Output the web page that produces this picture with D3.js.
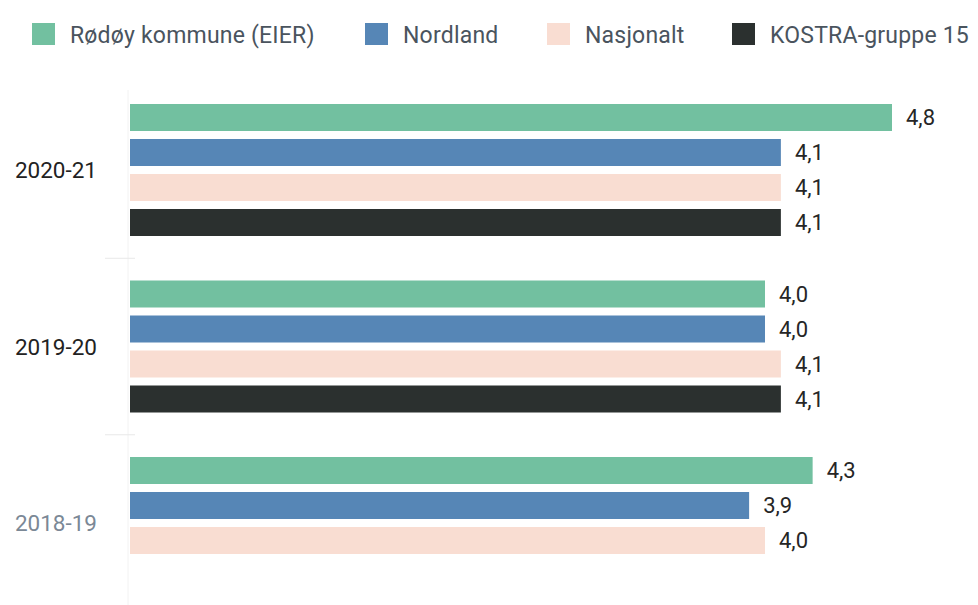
<!DOCTYPE html>
<html>
<head>
<meta charset="utf-8">
<script src="https://cdn.jsdelivr.net/npm/d3@7.9.0/dist/d3.min.js"></script>
<style>
  body { margin: 0; background: #fff; }
  svg { display: block; font-family: Roboto, "Noto Sans", sans-serif; }
</style>
</head>
<body>
<svg id="chart" width="978" height="605"></svg>
<script>
// data
const periods = ['2020-21', '2019-20', '2018-19'];
const series = ['Rødøy kommune (EIER)', 'Nordland', 'Nasjonalt', 'KOSTRA-gruppe 15'];
const rodoy = [4.8, 4.0, 4.3];
const nordland = [4.1, 4.0, 3.9];
const nasjonalt = [4.1, 4.1, 4.0];
const kostra = [4.1, 4.1, null];

const colors = ['#72c0a0', '#5686b6', '#f9ddd2', '#2b302f'];
const valueSets = [rodoy, nordland, nasjonalt, kostra];

let rows = [];
periods.forEach((p, i) => {
    series.forEach((s, j) => {
        if (valueSets[j][i] != null) rows.push({ period: p, series: s, idx: j, value: valueSets[j][i] });
    });
});

const svg = d3.select('#chart');

let x = d3.scaleLinear().domain([0, 4.8]).range([130, 892]);
let y0 = d3.scaleBand().domain(periods).range([81.75, 611.25]).paddingInner(0.2068).paddingOuter(0.1034);
let y1 = d3.scaleBand().domain(series).range([0, y0.bandwidth()]).paddingInner(0.2286).paddingOuter(0.1143);

// faint axis line and ticks between groups
svg.append('line')
    .attr('x1', 128).attr('x2', 128).attr('y1', 90).attr('y2', 605)
    .attr('stroke', '#f2f2f2');
periods.slice(1).forEach((p) => {
    let yy = y0(p) - (y0.step() - y0.bandwidth()) / 2;
    svg.append('line')
        .attr('x1', 105).attr('x2', 135).attr('y1', yy).attr('y2', yy)
        .attr('stroke', '#e8e8e8');
});

// bars
svg.selectAll('rect.bar')
    .data(rows)
    .join('rect')
    .attr('class', 'bar')
    .attr('x', x(0))
    .attr('y', (d) => y0(d.period) + y1(d.series))
    .attr('width', (d) => x(d.value) - x(0))
    .attr('height', y1.bandwidth())
    .attr('fill', (d) => colors[d.idx]);

// value labels
svg.selectAll('text.val')
    .data(rows)
    .join('text')
    .attr('class', 'val')
    .attr('x', (d) => x(d.value) + 14)
    .attr('y', (d) => y0(d.period) + y1(d.series) + y1.bandwidth() / 2)
    .attr('dy', '0.36em')
    .attr('font-size', 22)
    .attr('fill', '#262626')
    .text((d) => d3.format('.1f')(d.value).replace('.', ','));

// category labels
svg.selectAll('text.cat')
    .data(periods)
    .join('text')
    .attr('class', 'cat')
    .attr('x', 97)
    .attr('y', (d) => y0(d) + y0.bandwidth() / 2)
    .attr('dy', '0.36em')
    .attr('text-anchor', 'end')
    .attr('font-size', 22.5)
    .attr('fill', (d, i) => i === 2 ? '#7b8896' : '#222')
    .text((d) => d);

// legend
const legendX = [32, 365, 547, 732];
let legend = svg.append('g');
series.forEach((s, i) => {
    legend.append('rect')
        .attr('x', legendX[i]).attr('y', 23)
        .attr('width', 23).attr('height', 22)
        .attr('fill', colors[i]);
    legend.append('text')
        .attr('x', legendX[i] + 38).attr('y', 43)
        .attr('font-size', 23)
        .attr('letter-spacing', 0.2)
        .attr('fill', '#4a545e')
        .text(s);
});
</script>
</body>
</html>
